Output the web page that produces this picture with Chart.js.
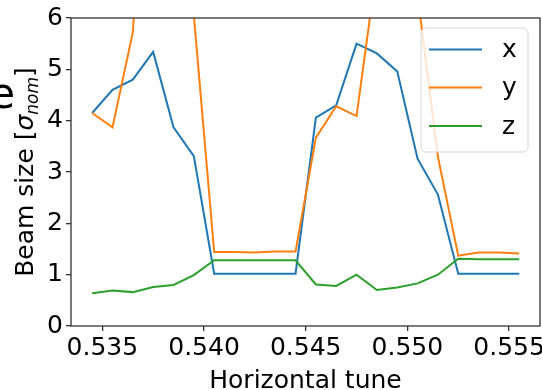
<!DOCTYPE html>
<html>
<head>
<meta charset="utf-8">
<script src="https://cdn.jsdelivr.net/npm/chart.js@4.4.1/dist/chart.umd.min.js"></script>
<style>
  html, body { margin: 0; padding: 0; background: #fff; }
  canvas { display: block; }
</style>
</head>
<body>
<canvas id="chart" width="542" height="390"></canvas>
<script>
// horizontal tune scan, beam sizes in units of nominal sigma
const tune = [0.5345, 0.5355, 0.5365, 0.5375, 0.5385, 0.5395, 0.5405, 0.5415, 0.5425, 0.5435, 0.5445,
              0.5455, 0.5465, 0.5475, 0.5485, 0.5495, 0.5505, 0.5515, 0.5525, 0.5535, 0.5545, 0.5555];
const sizeX = [4.15, 4.60, 4.80, 5.34, 3.87, 3.31, 1.02, 1.02, 1.02, 1.02, 1.02,
               4.06, 4.30, 5.50, 5.31, 4.96, 3.26, 2.56, 1.02, 1.02, 1.02, 1.02];
const sizeY = [4.15, 3.87, 5.72, 12.0, 12.0, 6.05, 1.44, 1.44, 1.43, 1.45, 1.45,
               3.67, 4.28, 4.09, 7.0, 8.5, 6.44, 3.30, 1.37, 1.43, 1.43, 1.41];
const sizeZ = [0.64, 0.69, 0.66, 0.76, 0.80, 0.99, 1.28, 1.28, 1.28, 1.28, 1.28,
               0.81, 0.78, 1.00, 0.70, 0.75, 0.83, 1.00, 1.31, 1.30, 1.30, 1.30];
const seriesNames = ['x', 'y', 'z'];
const xTicks = [0.535, 0.540, 0.545, 0.550, 0.555];
const yTicks = [0, 1, 2, 3, 4, 5, 6];

const colors = ['#1f77b4', '#ff7f0e', '#2ca02c'];
const FONT = "'DejaVu Sans', sans-serif";

function pts(ys) {
    return tune.map((t, i) => ({ x: t, y: ys[i] }));
}

const framePlugin = {
    id: 'frame',
    afterDatasetsDraw(chart) {
        const { ctx, chartArea: a } = chart;
        ctx.save();
        ctx.strokeStyle = '#333';
        ctx.lineWidth = 1.3;
        ctx.strokeRect(a.left, a.top, a.right - a.left, a.bottom - a.top);

        // legend box, top right
        const bx = 421, by = 28, bw = 107, bh = 124, r = 5;
        ctx.beginPath();
        ctx.roundRect(bx, by, bw, bh, r);
        ctx.fillStyle = 'rgba(255,255,255,0.8)';
        ctx.fill();
        ctx.strokeStyle = '#d6d6d6';
        ctx.lineWidth = 1;
        ctx.stroke();
        const rows = [49.5, 87.5, 126];
        seriesNames.forEach((name, i) => {
            ctx.beginPath();
            ctx.strokeStyle = colors[i];
            ctx.lineWidth = 2;
            ctx.moveTo(429, rows[i]);
            ctx.lineTo(482, rows[i]);
            ctx.stroke();
            ctx.fillStyle = '#000';
            ctx.font = '25px ' + FONT;
            ctx.textAlign = 'left';
            ctx.textBaseline = 'middle';
            ctx.fillText(name, 502, rows[i] + 1);
        });
        ctx.restore();
    },
    afterDraw(chart) {
        const { ctx, chartArea: a } = chart;
        ctx.save();
        ctx.fillStyle = '#000';
        ctx.textBaseline = 'alphabetic';

        // x axis title
        ctx.font = '25px ' + FONT;
        ctx.textAlign = 'center';
        ctx.fillText('Horizontal tune', (a.left + a.right) / 2, 388);

        // y axis title with subscript
        ctx.translate(33, (a.top + a.bottom) / 2);
        ctx.rotate(-Math.PI / 2);
        const main = '25px ' + FONT;
        const ital = 'italic 25px ' + FONT;
        const sub = 'italic 17px ' + FONT;
        const parts = [
            ['Beam size [', main, 0],
            ['\u03c3', ital, 0],
            ['nom', sub, 5],
            [']', main, 0]
        ];
        let w = 0;
        parts.forEach(p => { ctx.font = p[1]; w += ctx.measureText(p[0]).width; });
        let x = -w / 2;
        ctx.textAlign = 'left';
        parts.forEach(p => {
            ctx.font = p[1];
            ctx.fillText(p[0], x, p[2]);
            x += ctx.measureText(p[0]).width;
        });
        ctx.restore();

        // clipped panel letter at the left edge
        ctx.save();
        ctx.fillStyle = '#000';
        ctx.font = '42px ' + FONT;
        ctx.textAlign = 'right';
        ctx.textBaseline = 'alphabetic';
        ctx.fillText('e', 15, 108);
        ctx.restore();
    }
};

new Chart(document.getElementById('chart'), {
    type: 'line',
    data: {
        datasets: [
            { label: seriesNames[0], data: pts(sizeX), borderColor: colors[0], order: 3 },
            { label: seriesNames[1], data: pts(sizeY), borderColor: colors[1], order: 2 },
            { label: seriesNames[2], data: pts(sizeZ), borderColor: colors[2], order: 1 }
        ]
    },
    options: {
        responsive: false,
        animation: false,
        devicePixelRatio: 1,
        layout: { padding: { left: 0, top: 15, right: 2, bottom: 0 } },
        elements: {
            line: { borderWidth: 2, tension: 0, fill: false },
            point: { radius: 0 }
        },
        plugins: { legend: { display: false }, tooltip: { enabled: false } },
        scales: {
            x: {
                type: 'linear',
                min: 0.53346,
                max: 0.55652,
                border: { display: false },
                grid: { drawOnChartArea: false, drawTicks: true, tickLength: 5, color: '#333', lineWidth: 1.3 },
                ticks: {
                    color: '#000',
                    font: { family: FONT, size: 25 },
                    padding: 2,
                    maxRotation: 0,
                    autoSkip: false,
                    callback: v => v.toFixed(3)
                },
                afterBuildTicks: s => { s.ticks = xTicks.map(v => ({ value: v })); },
                afterFit: s => { s.height = 64; s.paddingLeft = 0; s.paddingRight = 0; }
            },
            y: {
                min: 0,
                max: 6,
                border: { display: false },
                grid: { drawOnChartArea: false, drawTicks: true, tickLength: 5, color: '#333', lineWidth: 1.3 },
                ticks: {
                    color: '#000',
                    font: { family: FONT, size: 25 },
                    padding: 3
                },
                afterBuildTicks: s => { s.ticks = yTicks.map(v => ({ value: v })); },
                afterFit: s => { s.width = 71; }
            }
        }
    },
    plugins: [framePlugin]
});
</script>
</body>
</html>
